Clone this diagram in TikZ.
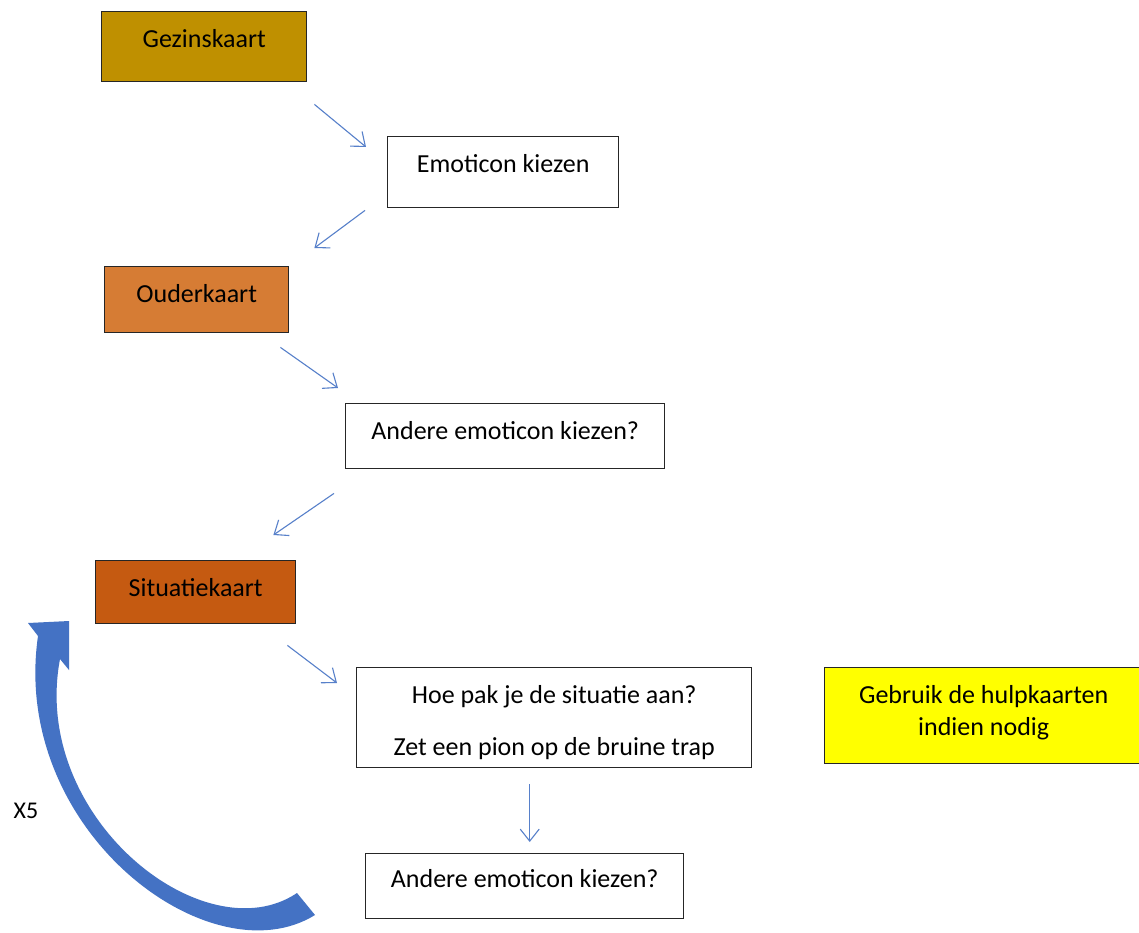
\documentclass[tikz,border=0pt]{standalone}
\usepackage{fontspec}
\setmainfont{Carlito}
\usetikzlibrary{arrows.meta}

\definecolor{gezincol}{HTML}{BF9000}
\definecolor{oudercol}{HTML}{D67C34}
\definecolor{situatiecol}{HTML}{C55A11}
\definecolor{hulpcol}{HTML}{FFFF00}
\definecolor{flowblue}{HTML}{4472C4}

\tikzset{
  card/.style={draw=black!85, line width=1.4pt, inner sep=0pt, anchor=north west,
    text height=36pt, font=\fontsize{26}{32}\selectfont},
  flow/.style={draw=flowblue!90, line width=1.1pt,
    -{Straight Barb[length=12pt,width=19pt]}},
}

\begin{document}
\begin{tikzpicture}[x=1pt,y=-1pt]
  %\draw (0, 0) grid (1139, 933);
  \clip (0,0) rectangle (1139,933);
  \fill[white] (0,0) rectangle (1139,933);

  \node[card, fill=gezincol, minimum width=205pt, text depth=34pt] (gezin) at (101,11) {Gezinskaart};
  \node[card, minimum width=231pt, text depth=35pt] (emo) at (387,136) {Emoticon kiezen};
  \node[card, fill=oudercol, minimum width=184pt, text depth=30pt] (ouder) at (104,266) {Ouderkaart};
  \node[card, minimum width=319pt, text depth=29pt] (andere) at (345,403) {Andere emoticon kiezen?};
  \node[card, fill=situatiecol, minimum width=200pt, text depth=27pt] (situatie) at (95,560) {Situatiekaart};
  \node[card, minimum width=395pt, align=center, text height=88pt, text depth=12pt] (aanpak) at (356,667)
    {Hoe pak je de situatie aan?\\[20pt]Zet een pion op de bruine trap};
  \node[card, minimum width=318pt, text height=34pt, text depth=31pt] (andere2) at (365,853) {Andere emoticon kiezen?};
  \node[card, fill=hulpcol, minimum width=318pt, align=center, text height=68pt, text depth=28pt] (hulp) at (824,667)
    {Gebruik de hulpkaarten\\indien nodig};

  % steps
  \draw[flow] ([shift={(7,22)}]gezin.south east) -- ([shift={(-21,11)}]emo.north west);
  \draw[flow] ([shift={(-22,2)}]emo.south west) -- ([shift={(25,-18)}]ouder.north east);
  \draw[flow] ([shift={(-9,14)}]ouder.south east) -- ([shift={(-7,-15)}]andere.north west);
  \draw[flow] ([shift={(-11,24)}]andere.south west) -- ([shift={(-23,-25)}]situatie.north east);
  \draw[flow] ([shift={(-9,21)}]situatie.south east) -- ([shift={(-19,16)}]aanpak.north west);
  \draw[flow] ([shift={(-24.5,16)}]aanpak.south) -- ([shift={(5,-11)}]andere2.north);

  % back to the situation card, five times
  \fill[flowblue] (315,915) .. controls (210,980) and (10,830) .. (38,636)
    -- (28,623) -- (69,621) -- (69,670) -- (60,659)
    .. controls (30,818) and (205,955) .. (297,893) -- cycle;
  \node[font=\fontsize{24}{28}\selectfont] (herhaal) at (26,811) {X5};

\end{tikzpicture}
\end{document}
